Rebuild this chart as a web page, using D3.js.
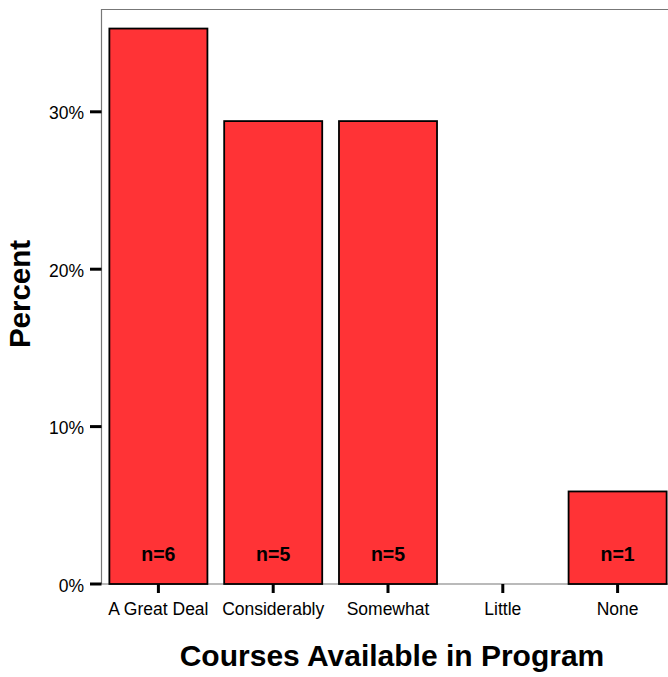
<!DOCTYPE html>
<html><head><meta charset="utf-8">
<script src="https://cdn.jsdelivr.net/npm/d3@7"></script>
<style>body{margin:0;background:#fff}svg{display:block}</style>
</head><body>
<svg id="c" width="668" height="677"></svg>
<script>
const categories = ["A Great Deal","Considerably","Somewhat","Little","None"];
const percents = [35.29, 29.41, 29.41, 0, 5.88];
const counts = [6, 5, 5, 0, 1];
const yTicks = [0, 10, 20, 30];

(function(){
const svg = d3.select("#c");
const FONT = "Liberation Sans, Arial, sans-serif";
const pLeft = 101.5, pTop = 9.5, pBottom = 584, pRight = 675;
const x = d3.scaleBand().domain(categories).range([101, 675]).paddingInner(0.146).paddingOuter(0.073);
const y = d3.scaleLinear().domain([0, 36.5]).range([pBottom, pTop]);

svg.append("path").attr("d", `M${pRight},${pTop}H${pLeft}V${pBottom}H${pRight}`)
  .attr("fill","none").attr("stroke","#777").attr("stroke-width",1.2);

const data = categories.map((c,i)=>({c, p:percents[i], n:counts[i]}));
svg.selectAll("rect.bar").data(data.filter(d=>d.p>0)).join("rect")
  .attr("x", d=>x(d.c)).attr("width", x.bandwidth())
  .attr("y", d=>y(d.p)).attr("height", d=>y(0)-y(d.p))
  .attr("fill","#ff3336").attr("stroke","#000").attr("stroke-width",1.8);

svg.selectAll("text.n").data(data.filter(d=>d.n>0)).join("text")
  .attr("x", d=>x(d.c)+x.bandwidth()/2).attr("y", 561)
  .attr("text-anchor","middle").attr("font-family",FONT)
  .attr("font-weight","bold").attr("font-size",19.5).text(d=>"n="+d.n);

const yg = svg.append("g");
yg.selectAll("line").data(yTicks).join("line")
  .attr("x1", 90).attr("x2", pLeft).attr("y1", d=>y(d)).attr("y2", d=>y(d))
  .attr("stroke","#000").attr("stroke-width",3);
yg.selectAll("text").data(yTicks).join("text")
  .attr("x", 84).attr("y", d=>y(d)+7.5).attr("text-anchor","end")
  .attr("font-family",FONT).attr("font-size",17.5)
  .text(d=>d+"%");

const xg = svg.append("g");
xg.selectAll("line").data(categories).join("line")
  .attr("x1", d=>x(d)+x.bandwidth()/2).attr("x2", d=>x(d)+x.bandwidth()/2)
  .attr("y1", pBottom).attr("y2", pBottom+9)
  .attr("stroke","#000").attr("stroke-width",3);
xg.selectAll("text").data(categories).join("text")
  .attr("x", d=>x(d)+x.bandwidth()/2).attr("y", 615).attr("text-anchor","middle")
  .attr("font-family",FONT).attr("font-size",17.5)
  .text(d=>d);

svg.append("text").attr("transform","translate(30,294) rotate(-90)")
  .attr("text-anchor","middle").attr("font-family",FONT)
  .attr("font-weight","bold").attr("font-size",29.5).text("Percent");
svg.append("text").attr("x",392).attr("y",666).attr("text-anchor","middle")
  .attr("font-family",FONT)
  .attr("font-weight","bold").attr("font-size",30).text("Courses Available in Program");
})();
</script>
</body></html>
